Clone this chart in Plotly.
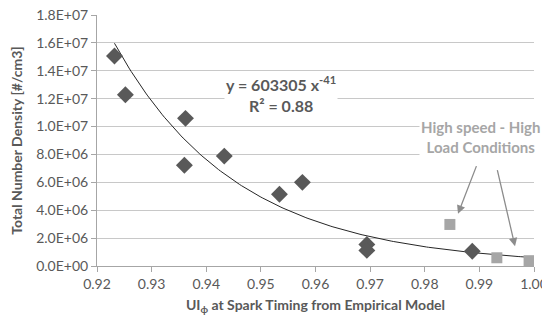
import numpy as np
import plotly.graph_objects as go

# Data
diamond_x = [0.9232, 0.9252, 0.9362, 0.9360, 0.9433, 0.9534, 0.9576, 0.9694, 0.9694, 0.9887]
diamond_y = [1.506e7, 1.228e7, 1.059e7, 7.22e6, 7.88e6, 5.15e6, 6.00e6, 1.55e6, 1.12e6, 1.06e6]

square_x = [0.9846, 0.9932, 0.9991]
square_y = [2.98e6, 0.59e6, 0.38e6]

# Trendline coefficients as printed on the chart (y = A * x^B)
TREND_A = 603305
TREND_B = -41
trend_x_range = [0.9232, 0.999]

y_tickvals = [0, 2e6, 4e6, 6e6, 8e6, 1.0e7, 1.2e7, 1.4e7, 1.6e7, 1.8e7]
y_ticktext = ["0.0E+00", "2.0E+06", "4.0E+06", "6.0E+06", "8.0E+06",
              "1.0E+07", "1.2E+07", "1.4E+07", "1.6E+07", "1.8E+07"]

FONT = "Lato"
TXT = "#595959"

tx = np.linspace(trend_x_range[0], trend_x_range[1], 200)
ty = TREND_A * tx ** TREND_B

fig = go.Figure()
fig.add_trace(go.Scatter(x=tx, y=ty, mode="lines",
                         line=dict(color="#262626", width=1), hoverinfo="skip"))
fig.add_trace(go.Scatter(x=diamond_x, y=diamond_y, mode="markers",
                         marker=dict(symbol="diamond", size=13, color="#595959")))
fig.add_trace(go.Scatter(x=square_x, y=square_y, mode="markers",
                         marker=dict(symbol="square", size=11, color="#a6a6a6")))

# page is offset by 8px (body margin); margins compensate for it
fig.update_layout(
    width=550, height=322,
    margin=dict(l=89, r=24, t=7, b=64),
    plot_bgcolor="white", paper_bgcolor="white",
    showlegend=False,
    font=dict(family=FONT, size=14, color=TXT),
)
fig.update_xaxes(
    range=[0.92, 1.00], dtick=0.01, tick0=0.92, tickformat=".2f",
    showgrid=False, zeroline=False, automargin=False,
    showline=True, linecolor="#a6a6a6", linewidth=1,
    ticks="outside", ticklen=5, tickcolor="#a6a6a6",
    tickfont=dict(family=FONT, size=14, color=TXT),
    title=dict(text="<b>UI<sub>ϕ</sub> at Spark Timing from Empirical Model</b>",
               font=dict(family=FONT, size=14, color=TXT), standoff=9),
)
fig.update_yaxes(
    range=[0, 1.8e7], tickvals=y_tickvals, ticktext=y_ticktext,
    showgrid=True, gridcolor="#c8c8c8", gridwidth=1, zeroline=False, automargin=False,
    showline=True, linecolor="#a6a6a6", linewidth=1,
    ticks="outside", ticklen=5, tickcolor="#a6a6a6", ticklabeloverflow="allow",
    tickfont=dict(family=FONT, size=14, color=TXT),
    title=dict(text="<b>Total Number Density [#/cm3]</b>",
               font=dict(family=FONT, size=14, color=TXT), standoff=10),
)

fig.add_annotation(
    xref="x domain", yref="y domain", x=(281 - 97) / 437, y=(265 - 90) / 255,
    xanchor="center", yanchor="middle",
    text="<b>y = 603305 x<sup>-41</sup><br>R² = 0.88</b>",
    showarrow=False, bgcolor="white", align="center",
    font=dict(family=FONT, size=16, color=TXT),
)
fig.add_annotation(
    xref="x domain", yref="y domain", x=(480 - 97) / 437, y=(265 - 134) / 255,
    xanchor="center", yanchor="middle",
    text="<b>High speed - High<br>Load Conditions</b>",
    showarrow=False, bgcolor="white", align="center",
    font=dict(family=FONT, size=15, color="#a6a6a6"),
)
for (x0, y0, x1, y1) in [(477, 162, 458, 212), (497, 166, 515, 245)]:
    fig.add_annotation(
        xref="x domain", yref="y domain",
        x=(x1 - 97) / 437, y=(265 - y1) / 255,
        ax=(x0 - 97) / 437, ay=(265 - y0) / 255,
        axref="x domain", ayref="y domain",
        text="", showarrow=True, arrowhead=2, arrowsize=1.3,
        arrowwidth=1.3, arrowcolor="#8c8c8c",
    )

fig.write_html("out.html")
